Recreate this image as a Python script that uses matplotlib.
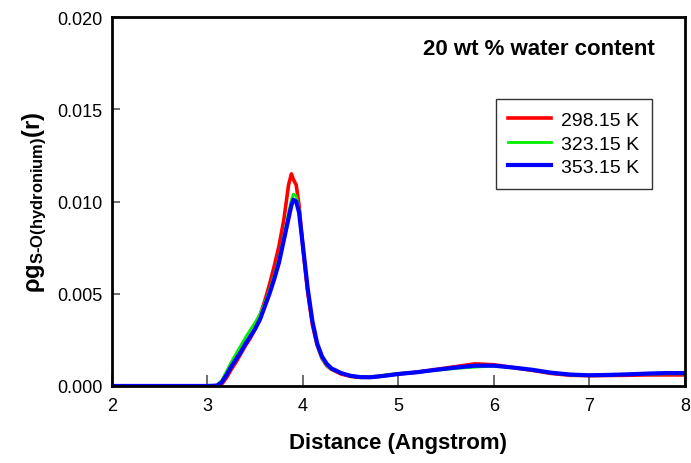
import numpy as np
import matplotlib
matplotlib.use("Agg")
import matplotlib.pyplot as plt

plt.rcParams['font.family'] = ['Liberation Sans', 'DejaVu Sans']
plt.rcParams['mathtext.fontset'] = 'custom'
plt.rcParams['mathtext.rm'] = 'Liberation Sans:bold'
plt.rcParams['mathtext.bf'] = 'Liberation Sans:bold'
plt.rcParams['mathtext.it'] = 'Liberation Sans:bold'

# distance (Angstrom)
r = [2.0, 3.0, 3.1, 3.15, 3.2, 3.25, 3.3, 3.35, 3.4, 3.45, 3.5, 3.55, 3.6, 3.65,
     3.7, 3.75, 3.8, 3.85, 3.88, 3.9, 3.93, 3.96, 4.0, 4.05, 4.1, 4.15, 4.2, 4.25,
     4.3, 4.4, 4.5, 4.6, 4.7, 4.8, 4.9, 5.0, 5.2, 5.4, 5.6, 5.8, 6.0, 6.2, 6.4,
     6.6, 6.8, 7.0, 7.2, 7.4, 7.6, 7.8, 8.0]

# rho*g(r), units of 1e-3
g_298 = [0, 0, 0.0, 0.1, 0.45, 0.9, 1.3, 1.75, 2.2, 2.6, 3.1, 3.8, 4.6, 5.5,
         6.5, 7.6, 9.0, 10.9, 11.5, 11.2, 10.9, 9.8, 7.5, 5.1, 3.3, 2.2, 1.5, 1.1,
         0.9, 0.65, 0.52, 0.47, 0.48, 0.52, 0.6, 0.65, 0.75, 0.9, 1.05, 1.2, 1.15, 1.0, 0.85,
         0.68, 0.58, 0.56, 0.57, 0.58, 0.6, 0.6, 0.6]
g_323 = [0, 0, 0.05, 0.3, 0.8, 1.3, 1.75, 2.2, 2.65, 3.05, 3.45, 3.9, 4.5, 5.2,
         6.0, 6.9, 8.1, 9.4, 10.1, 10.4, 10.3, 9.6, 7.7, 5.3, 3.4, 2.2, 1.5, 1.1,
         0.9, 0.68, 0.55, 0.5, 0.5, 0.55, 0.62, 0.68, 0.75, 0.85, 0.95, 1.02, 1.08, 1.0, 0.88,
         0.7, 0.6, 0.57, 0.6, 0.62, 0.65, 0.66, 0.66]
g_353 = [0, 0, 0.02, 0.2, 0.6, 1.05, 1.45, 1.85, 2.3, 2.7, 3.1, 3.6, 4.3, 5.0,
         5.8, 6.7, 7.9, 9.1, 9.8, 10.1, 10.0, 9.4, 7.6, 5.3, 3.5, 2.3, 1.6, 1.2,
         0.95, 0.7, 0.55, 0.48, 0.47, 0.52, 0.58, 0.65, 0.75, 0.88, 1.0, 1.1, 1.1, 1.0, 0.88,
         0.72, 0.62, 0.58, 0.6, 0.63, 0.67, 0.7, 0.7]

labels = ['298.15 K', '323.15 K', '353.15 K']
colors = ['#ff0000', '#00ee00', '#0000ff']
widths = [2.6, 2.0, 3.0]

fig = plt.figure(figsize=(6.91, 4.64), dpi=100)
ax = fig.add_axes([0.162, 0.166, 0.829, 0.795])

for g, lab, c, w in zip([g_298, g_323, g_353], labels, colors, widths):
    ax.plot(r, np.array(g) * 1e-3, color=c, lw=w, label=lab)

ax.set_xlim(2, 8)
ax.set_ylim(0, 0.020)
ax.set_xticks([2, 3, 4, 5, 6, 7, 8])
ax.set_yticks([0.000, 0.005, 0.010, 0.015, 0.020])
ax.set_yticklabels(['0.000', '0.005', '0.010', '0.015', '0.020'])

for s in ax.spines.values():
    s.set_linewidth(2)
ax.tick_params(axis='both', direction='in', labelsize=13, color='#555555')
ax.tick_params(axis='x', length=8, width=1.2, pad=8)
ax.tick_params(axis='y', length=6, width=1.2, pad=7)

ax.set_xlabel('Distance (Angstrom)', fontsize=16, fontweight='bold', labelpad=13)
ax.set_ylabel(r'$\rho$g$_{\mathrm{S\text{-}O(hydronium)}}$(r)', fontsize=17,
              fontweight='bold', labelpad=6)

ax.text(0.947, 0.915, '20 wt % water content', transform=ax.transAxes,
        ha='right', va='center', fontsize=16, fontweight='bold')

leg = ax.legend(loc='upper right', bbox_to_anchor=(0.942, 0.778), borderaxespad=0,
                fontsize=14, frameon=True, fancybox=False, edgecolor='black',
                handlelength=2.2, borderpad=0.65, labelspacing=0.3, handletextpad=0.5)
leg.get_frame().set_linewidth(1.0)

plt.savefig('out.png', dpi=100)
